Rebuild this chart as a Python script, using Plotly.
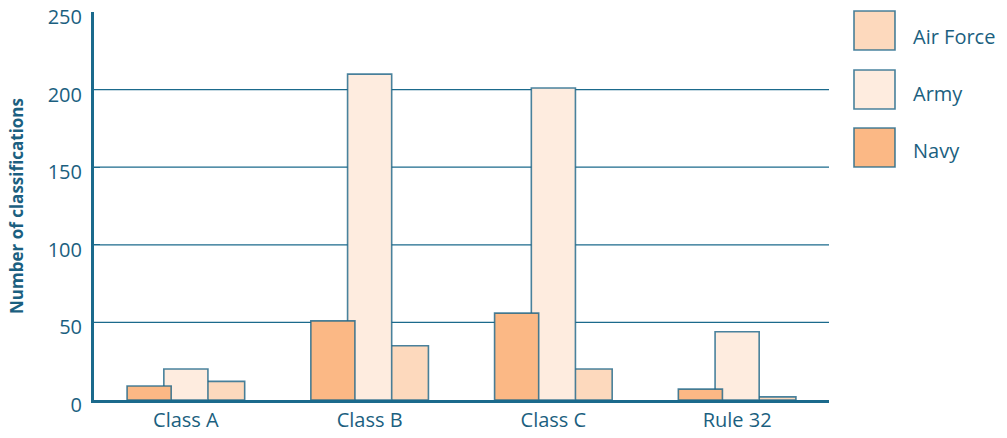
import plotly.graph_objects as go

categories = ["Class A", "Class B", "Class C", "Rule 32"]
series_names = ["Air Force", "Army", "Navy"]
air_force = [12, 35, 20, 2]
army = [20, 210, 201, 44]
navy = [9, 51, 56, 7]
y_ticks = [0, 50, 100, 150, 200, 250]

values = {"Air Force": air_force, "Army": army, "Navy": navy}
colors = {"Air Force": "#FDD9BD", "Army": "#FEECDF", "Navy": "#FBB885"}
offsets = {"Air Force": 0.08, "Army": -0.12, "Navy": -0.32}
BAR_W = 0.24
TEXT = "#1B5F80"
LINE = "#1B6A8C"
OUTLINE = "rgba(27,100,135,0.8)"

fig = go.Figure()
for name in series_names:
    fig.add_trace(go.Bar(
        x=categories, y=values[name], name=name,
        width=BAR_W, offset=offsets[name],
        marker=dict(color=colors[name], line=dict(color=OUTLINE, width=1.6)),
        showlegend=False,
    ))

# horizontal gridlines at the inner tick values
for v in y_ticks[1:-1]:
    fig.add_shape(type="line", xref="paper", yref="y", x0=0, x1=1, y0=v, y1=v,
                  line=dict(color=LINE, width=1.2), layer="below")

# custom legend (large swatches)
box_top = [1.0026, 0.8505, 0.7010]
text_y = [0.938, 0.7887, 0.644]
for i, name in enumerate(series_names):
    fig.add_shape(type="rect", xref="paper", yref="paper",
                  x0=1.034, x1=1.0898, y0=box_top[i] - 0.1005, y1=box_top[i],
                  fillcolor=colors[name], line=dict(color=OUTLINE, width=1.6))
    fig.add_annotation(xref="paper", yref="paper", x=1.112, y=text_y[i],
                       text=name, showarrow=False, xanchor="left", yanchor="middle",
                       font=dict(size=20, color=TEXT, family="Open Sans"))

fig.update_layout(
    width=1007, height=438,
    margin=dict(l=94, r=178, t=12, b=38, autoexpand=False),
    barmode="overlay",
    plot_bgcolor="white", paper_bgcolor="white",
    font=dict(family="Open Sans", color=TEXT, size=20),
    xaxis=dict(
        type="category", range=[-0.5, 3.5], automargin=False,
        showline=True, linecolor=LINE, linewidth=3,
        showgrid=False, ticks="", tickfont=dict(size=20, color=TEXT),
    ),
    yaxis=dict(
        range=[0, 250.01], tickvals=y_ticks, automargin=False,
        ticklabeloverflow="allow", ticklabelshift=5, ticklabelstandoff=5,
        showline=True, linecolor=LINE, linewidth=3,
        showgrid=False, zeroline=False,
        ticks="inside", ticklen=6, tickcolor=LINE, tickwidth=1.2,
        tickfont=dict(size=20, color=TEXT),
        title=dict(text="<b>Number of classifications</b>", font=dict(size=17, color=TEXT), standoff=20),
    ),
)

fig.write_html("out.html")
